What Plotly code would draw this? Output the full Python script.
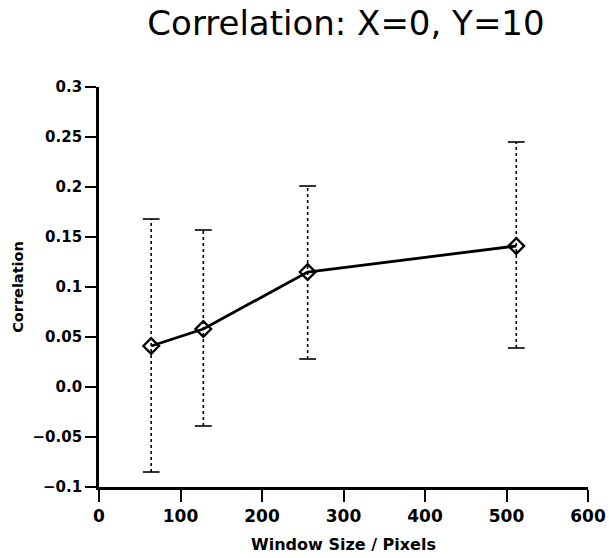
import plotly.graph_objects as go

window_size = [64, 128, 256, 512]
correlation = [0.041, 0.058, 0.115, 0.141]
err_upper = [0.168, 0.157, 0.201, 0.245]
err_lower = [-0.085, -0.039, 0.028, 0.039]

y_tickvals = [-0.1, -0.05, 0.0, 0.05, 0.1, 0.15, 0.2, 0.25, 0.3]
y_ticktext = ["\u22120.1", "\u22120.05", "0.0", "0.05", "0.1", "0.15", "0.2", "0.25", "0.3"]
x_tickvals = [0, 100, 200, 300, 400, 500, 600]

ex, ey = [], []
for x, lo, hi in zip(window_size, err_lower, err_upper):
    ex += [x, x, None]
    ey += [lo, hi, None]

fig = go.Figure()
fig.add_trace(go.Scatter(x=ex, y=ey, mode="lines",
                         line=dict(color="black", width=1.6, dash="dot"),
                         showlegend=False, hoverinfo="skip"))
fig.add_trace(go.Scatter(x=window_size + window_size, y=err_upper + err_lower,
                         mode="markers",
                         marker=dict(symbol="line-ew", size=12,
                                     line=dict(color="black", width=1.6)),
                         showlegend=False, hoverinfo="skip"))
fig.add_trace(go.Scatter(x=window_size, y=correlation, mode="lines+markers",
                         line=dict(color="black", width=2.8),
                         marker=dict(symbol="diamond-open", size=12,
                                     line=dict(color="black", width=2.4)),
                         showlegend=False))

fig.update_layout(
    template="none",
    width=609, height=558,
    margin=dict(l=99, r=21, t=87, b=71),
    paper_bgcolor="white", plot_bgcolor="white",
    title=dict(text="Correlation: X=0, Y=10", x=346/609, xanchor="center",
               y=1 - 23/558, yanchor="middle",
               font=dict(family="DejaVu Sans", size=34, color="black")),
    xaxis=dict(range=[0, 600], tickvals=x_tickvals, showgrid=False, zeroline=False,
               automargin=False,
               showline=True, linecolor="black", linewidth=2.8,
               ticks="outside", ticklen=12, tickwidth=2.2, tickcolor="black",
               tickfont=dict(family="DejaVu Sans", size=17, color="black", weight="bold"),
               title=dict(text="Window Size / Pixels", standoff=14,
                          font=dict(family="DejaVu Sans", size=16, color="black", weight="bold"))),
    yaxis=dict(range=[-0.1, 0.3], tickvals=y_tickvals, ticktext=y_ticktext,
               showgrid=False, zeroline=False, automargin=False,
               showline=True, linecolor="black", linewidth=2.8,
               ticks="outside", ticklen=11, tickwidth=2.2, tickcolor="black",
               tickfont=dict(family="DejaVu Sans", size=15, color="black", weight="bold"),
               title=dict(text="Correlation", standoff=6,
                          font=dict(family="DejaVu Sans", size=14.5, color="black", weight="bold"))),
)
fig.write_html("out.html")
